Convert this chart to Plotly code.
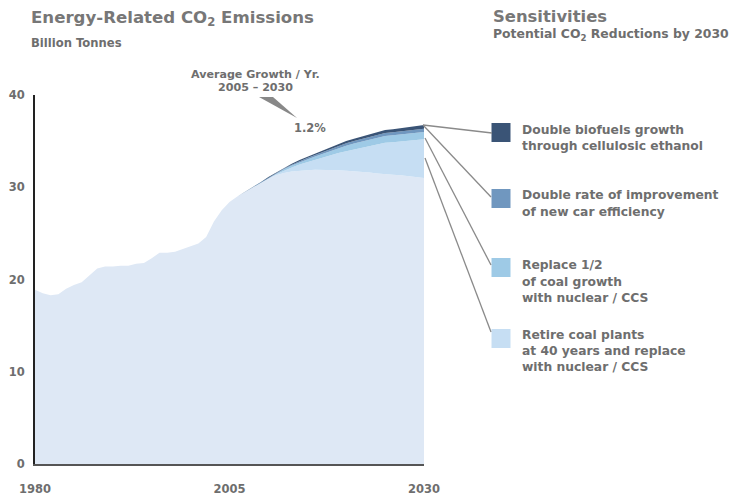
import plotly.graph_objects as go

# ---------------- data ----------------
years_hist = list(range(1980, 2031))
base_values = [
    18.9, 18.5, 18.3, 18.4, 19.0, 19.4, 19.7, 20.4, 21.2, 21.4,   # 1980-1989
    21.4, 21.5, 21.5, 21.7, 21.8, 22.3, 22.9, 22.9, 23.0, 23.3,   # 1990-1999
    23.6, 23.9, 24.6, 26.3, 27.5, 28.4, 29.0, 29.5, 30.0, 30.5,   # 2000-2009
    30.95, 31.3, 31.55, 31.7, 31.8, 31.85, 31.9, 31.9, 31.9, 31.85,  # 2010-2019
    31.8, 31.75, 31.7, 31.6, 31.5, 31.4, 31.35, 31.3, 31.2, 31.1,  # 2020-2029
    31.0,                                                          # 2030
]

years_proj = list(range(2005, 2031))
retire_coal = [0, 0, 0, 0, 0.01, 0.04, 0.10, 0.25, 0.45, 0.66, 0.87, 1.07, 1.31,
               1.56, 1.85, 2.11, 2.35, 2.59, 2.88, 3.17, 3.42, 3.52, 3.65, 3.81, 3.98, 4.2]
replace_coal = [0, 0, 0, 0, 0.02, 0.05, 0.10, 0.15, 0.20, 0.25, 0.30, 0.36, 0.42,
                0.48, 0.55, 0.60, 0.63, 0.66, 0.69, 0.72, 0.74, 0.76, 0.77, 0.78, 0.79, 0.8]
car_efficiency = [0, 0, 0, 0, 0.01, 0.03, 0.05, 0.07, 0.10, 0.12, 0.14, 0.16, 0.19,
                  0.22, 0.25, 0.27, 0.28, 0.29, 0.30, 0.31, 0.32, 0.33, 0.33, 0.34, 0.35, 0.35]
biofuels = [0, 0, 0, 0, 0.01, 0.03, 0.05, 0.08, 0.10, 0.12, 0.14, 0.16, 0.18,
            0.19, 0.20, 0.22, 0.24, 0.26, 0.28, 0.30, 0.32, 0.34, 0.35, 0.37, 0.38, 0.4]

legend_labels = [
    ["Double biofuels growth", "through cellulosic ethanol"],
    ["Double rate of improvement", "of new car efficiency"],
    ["Replace 1/2", "of coal growth", "with nuclear / CCS"],
    ["Retire coal plants", "at 40 years and replace", "with nuclear / CCS"],
]
y_ticks = [0, 10, 20, 30, 40]
x_ticks = [1980, 2005, 2030]

# ---------------- style ----------------
FONT = "DejaVu Sans"
TXT = "#6e6e6e"
C_BASE = "#dee8f5"
C_RETIRE = "#c6def3"
C_REPLACE = "#9ecae6"
C_CAR = "#7097bf"
C_BIO = "#3a5476"

W, H = 733, 495
ML, MR, MT, MB = 35, 309, 95, 31


def X(px):
    return (px - ML) / (W - ML - MR)


def Y(py):
    return (H - MB - py) / (H - MT - MB)


fig = go.Figure()
series = [
    ("Base", years_hist, base_values, C_BASE),
    ("Retire", years_proj, retire_coal, C_RETIRE),
    ("Replace", years_proj, replace_coal, C_REPLACE),
    ("Car", years_proj, car_efficiency, C_CAR),
    ("Biofuels", years_proj, biofuels, C_BIO),
]
for name, xs, ys, col in series:
    fig.add_trace(go.Scatter(
        x=xs, y=ys, name=name, stackgroup="one", mode="lines",
        line=dict(width=0, color=col), fillcolor=col, hoverinfo="skip",
        showlegend=False,
    ))

fig.update_layout(
    width=W, height=H, autosize=False,
    margin=dict(l=ML, r=MR, t=MT, b=MB, autoexpand=False),
    paper_bgcolor="white", plot_bgcolor="white",
    font=dict(family=FONT, color=TXT),
    xaxis=dict(range=[1980, 2030], tickvals=x_ticks, ticktext=[str(v) for v in x_ticks],
               showgrid=False, zeroline=False, showline=True, linecolor="#555555",
               linewidth=2, ticks="", ticklabelstandoff=13, automargin=False,
               tickfont=dict(size=11.5, color=TXT, weight="bold", family=FONT)),
    yaxis=dict(range=[0, 40], tickvals=y_ticks, showgrid=False, zeroline=False,
               showline=True, linecolor="#222222", linewidth=2, ticks="",
               ticklabelstandoff=6, automargin=False,
               tickfont=dict(size=11.5, color=TXT, weight="bold", family=FONT)),
)

ann = []
def text(px, py, s, size, xanchor="left", color=TXT):
    ann.append(dict(x=X(px), y=Y(py), xref="paper", yref="paper", text=s, showarrow=False,
                    xanchor=xanchor, yanchor="middle", align=xanchor,
                    borderpad=0,
                    font=dict(size=size, color=color, family=FONT, weight="bold")))

text(30, 18.5, "Energy-Related CO<sub>2</sub> Emissions", 16.6, color="#777777")
text(30, 43, "Billion Tonnes", 11.6)
text(492, 16.5, "Sensitivities", 16.4, color="#777777")
text(492, 34, "Potential CO<sub>2</sub> Reductions by 2030", 12.4)
text(256, 74, "Average Growth / Yr.", 11.1, xanchor="center")
text(256, 87.5, "2005 \u2013 2030", 11.1, xanchor="center")
text(310, 128, "1.2%", 11.5, xanchor="center")

legend_lines_y = [[130, 146], [195, 212], [265, 282, 298], [335, 351, 367]]
for lines, ys in zip(legend_labels, legend_lines_y):
    for s, yy in zip(lines, ys):
        text(521, yy, s, 12.3)

shapes = []
# pointer wedge
shapes.append(dict(type="path", xref="paper", yref="paper",
                   path=f"M {X(259)},{Y(97)} L {X(273)},{Y(97)} L {X(297)},{Y(118)} Z",
                   fillcolor="#888888", line=dict(width=0)))
# legend boxes
boxes = [(123, 142, C_BIO), (189, 208, C_CAR), (258, 277, C_REPLACE), (329, 348, C_RETIRE)]
for y0, y1, col in boxes:
    shapes.append(dict(type="rect", xref="paper", yref="paper",
                       x0=X(491.5), x1=X(510.5), y0=Y(y1), y1=Y(y0),
                       fillcolor=col, line=dict(width=0)))
# leader lines
leaders = [((423, 125), (492, 133)), ((423, 125), (491, 197)),
           ((425, 138), (491, 265)), ((425, 158), (491, 332))]
for (x0, y0), (x1, y1) in leaders:
    shapes.append(dict(type="line", xref="paper", yref="paper",
                       x0=X(x0), y0=Y(y0), x1=X(x1), y1=Y(y1),
                       line=dict(color="#8a8a8a", width=1.3)))

fig.update_layout(annotations=ann, shapes=shapes)
fig.write_html("out.html")
